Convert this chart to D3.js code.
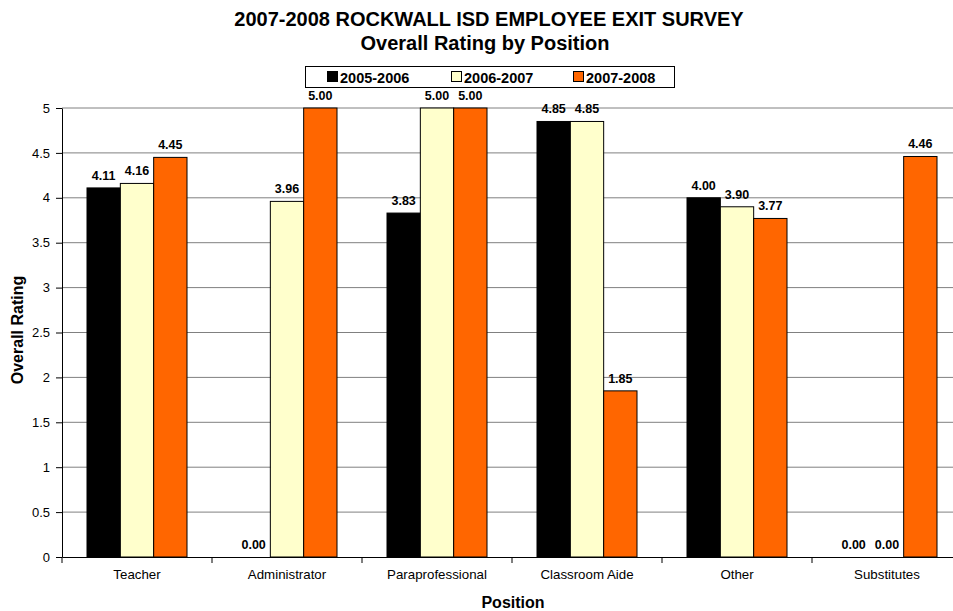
<!DOCTYPE html>
<html><head><meta charset="utf-8">
<script src="https://cdn.jsdelivr.net/npm/d3@7"></script>
<style>body{margin:0;background:#fff}svg{display:block;font-family:"Liberation Sans",Arial,sans-serif}</style>
</head><body><svg id="c" width="953" height="611"></svg>
<script>
const categories = ["Teacher","Administrator","Paraprofessional","Classroom Aide","Other","Substitutes"];
const seriesNames = ["2005-2006","2006-2007","2007-2008"];
const s2005 = [4.11, 0.00, 3.83, 4.85, 4.00, 0.00];
const s2006 = [4.16, 3.96, 5.00, 4.85, 3.90, 0.00];
const s2007 = [4.45, 5.00, 5.00, 1.85, 3.77, 4.46];
const colors = ["#000000","#FFFFCC","#FF6600"];
const yTicks = [0,0.5,1,1.5,2,2.5,3,3.5,4,4.5,5];

const svg = d3.select("#c");
const L = 62, R = 962, T = 108, B = 557;
const x = d3.scaleBand().domain(categories).range([L, R]).paddingInner(1/3).paddingOuter(1/6);
const xs = d3.scaleBand().domain(seriesNames).range([0, x.bandwidth()]);
const y = d3.scaleLinear().domain([0,5]).range([B, T]);

// gridlines
svg.append("g").selectAll("line").data(yTicks.filter(d=>d>0)).join("line")
  .attr("x1", L).attr("x2", R).attr("y1", d=>y(d)).attr("y2", d=>y(d))
  .attr("stroke","#808080").attr("stroke-width",1);

// y axis
const ya = svg.append("g").attr("transform",`translate(${L},0)`)
  .call(d3.axisLeft(y).tickValues(yTicks).tickFormat(d=>String(d)).tickSize(6).tickSizeOuter(0));
ya.select(".domain").attr("stroke","#000");
ya.selectAll(".tick line").attr("stroke","#000");
ya.selectAll(".tick text").attr("font-size",13).attr("fill","#000").attr("x",-12).attr("font-family","Liberation Sans, Arial, sans-serif");

// x axis
const xa = svg.append("g").attr("transform",`translate(0,${B})`)
  .call(d3.axisBottom(x).tickSize(0).tickSizeOuter(0));
xa.select(".domain").attr("stroke","#000");
xa.selectAll(".tick text").attr("font-size",13.3).attr("fill","#000").attr("dy","1.45em").attr("font-family","Liberation Sans, Arial, sans-serif");
// boundary ticks
svg.append("g").selectAll("line").data(categories).join("line")
  .attr("x1", d=>x(d)-x.step()*x.paddingOuter()).attr("x2", d=>x(d)-x.step()*x.paddingOuter())
  .attr("y1", B).attr("y2", B+6).attr("stroke","#000");

const series = [s2005, s2006, s2007];
const data = [];
categories.forEach((c,i)=>seriesNames.forEach((s,j)=>data.push({c, s, j, v: series[j][i]})));

const g = svg.append("g");
g.selectAll("rect").data(data.filter(d=>d.v>0)).join("rect")
  .attr("x", d=>x(d.c)+xs(d.s)).attr("width", xs.bandwidth())
  .attr("y", d=>y(d.v)).attr("height", d=>B-y(d.v))
  .attr("fill", d=>colors[d.j]).attr("stroke","#000").attr("stroke-width",1);

g.selectAll("text").data(data).join("text")
  .attr("x", d=>x(d.c)+xs(d.s)+xs.bandwidth()/2)
  .attr("y", d=>y(d.v)-8)
  .attr("text-anchor","middle").attr("font-size",12.5).attr("font-weight","bold")
  .text(d=>d.v.toFixed(2));

// titles
svg.append("text").attr("x",489).attr("y",26).attr("text-anchor","middle")
  .attr("font-size",20).attr("font-weight","bold").text("2007-2008 ROCKWALL ISD EMPLOYEE EXIT SURVEY");
svg.append("text").attr("x",485).attr("y",50).attr("text-anchor","middle")
  .attr("font-size",20).attr("font-weight","bold").text("Overall Rating by Position");
svg.append("text").attr("x",513).attr("y",608).attr("text-anchor","middle")
  .attr("font-size",16).attr("font-weight","bold").text("Position");
svg.append("text").attr("transform","translate(23,330) rotate(-90)").attr("text-anchor","middle")
  .attr("font-size",16).attr("font-weight","bold").text("Overall Rating");

// legend
const lg = svg.append("g");
lg.append("rect").attr("x",305.5).attr("y",66.5).attr("width",369).attr("height",21)
  .attr("fill","#fff").attr("stroke","#000");
const lx = [327, 451, 573];
seriesNames.forEach((s,i)=>{
  lg.append("rect").attr("x",lx[i]+0.5).attr("y",71.5).attr("width",10).attr("height",10)
    .attr("fill",colors[i]).attr("stroke","#000");
  lg.append("text").attr("x",lx[i]+13).attr("y",82.5).attr("font-size",14.5).attr("font-weight","bold").text(s);
});
</script></body></html>
